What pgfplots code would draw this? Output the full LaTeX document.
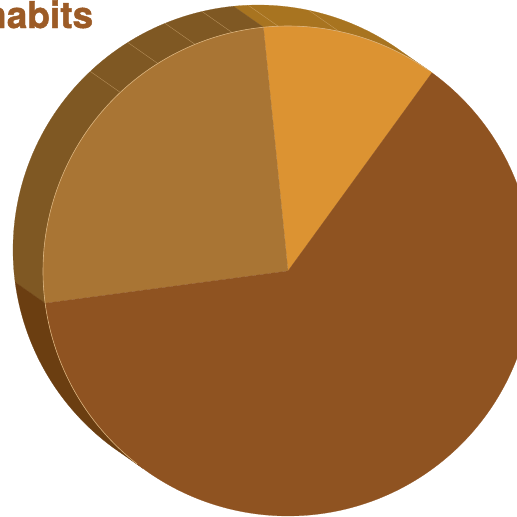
\documentclass[border=0pt]{standalone}
\usepackage{pgfplots}
\pgfplotsset{compat=1.18}
\usepackage{fontspec}
\newfontfamily\titlefont{TeX Gyre Heros}[BoldFeatures={FakeBold=1.2}]
\definecolor{darktop}{HTML}{8F5321}
\definecolor{darkside}{HTML}{6B3E11}
\definecolor{lighttop}{HTML}{A97534}
\definecolor{lightside}{HTML}{7F5823}
\definecolor{orangetop}{HTML}{DC9332}
\definecolor{orangeside}{HTML}{A87420}
\definecolor{rim}{HTML}{D9B27C}
\definecolor{titlecol}{HTML}{9C5B26}

% slice values (percent)
\def\vOrange{11.6}
\def\vLight{25.5}
\def\vDark{62.9}
\def\startangle{54}
\pgfmathsetmacro{\aA}{\startangle}
\pgfmathsetmacro{\aB}{\aA+3.6*\vOrange}
\pgfmathsetmacro{\aC}{\aB+3.6*\vLight}
\pgfmathsetmacro{\aD}{\aC+3.6*\vDark}
% geometry of the drawing (pixels)
\def\cx{288}\def\cy{271}\def\R{245}\def\ox{-30}\def\oy{-21}
\def\visEnd{233.7}

\begin{document}
\begin{tikzpicture}
\path[use as bounding box] (0,0) rectangle (517pt,517pt);
\clip (0,0) rectangle (517pt,517pt);
\begin{axis}[
  at={(0,0)}, anchor=south west,
  hide axis, scale only axis,
  width=517pt, height=517pt,
  xmin=0, xmax=517, ymin=0, ymax=517,
  y dir=reverse,
]
% ---- side walls ----
\addplot[fill=orangeside, draw=orangeside, line width=0.2pt, domain=0:3, samples=181, variable=\s]
 ({\cx + \R*cos(\aA + (\aB-\aA)*min(\s,1) - (\aB-\aA)*max(\s-2,0)) + \ox*min(max(\s-1,0),1)},
  {\cy - \R*sin(\aA + (\aB-\aA)*min(\s,1) - (\aB-\aA)*max(\s-2,0)) + \oy*min(max(\s-1,0),1)}) -- cycle;
\addplot[fill=lightside, draw=lightside, line width=0.2pt, domain=0:3, samples=181, variable=\s]
 ({\cx + \R*cos(\aB + (\aC-\aB)*min(\s,1) - (\aC-\aB)*max(\s-2,0)) + \ox*min(max(\s-1,0),1)},
  {\cy - \R*sin(\aB + (\aC-\aB)*min(\s,1) - (\aC-\aB)*max(\s-2,0)) + \oy*min(max(\s-1,0),1)}) -- cycle;
\addplot[fill=darkside, draw=darkside, line width=0.2pt, domain=0:3, samples=181, variable=\s]
 ({\cx + \R*cos(\aC + (\visEnd-\aC)*min(\s,1) - (\visEnd-\aC)*max(\s-2,0)) + \ox*min(max(\s-1,0),1)},
  {\cy - \R*sin(\aC + (\visEnd-\aC)*min(\s,1) - (\visEnd-\aC)*max(\s-2,0)) + \oy*min(max(\s-1,0),1)}) -- cycle;
% ---- facet lines on the wall ----
\pgfplotsinvokeforeach{78,92.3,103.2,112.3,122.1,133.2}{
\addplot[draw=rim, draw opacity=0.6, line width=0.4pt, domain=0:1, samples=2, variable=\s]
 ({\cx+\R*cos(#1)+\ox*\s},{\cy-\R*sin(#1)+\oy*\s});
}
% ---- top faces ----
\addplot[fill=orangetop, draw=orangetop, line width=0.2pt, domain=\aA:\aB, samples=60, variable=\t]
 ({\cx+\R*cos(\t)}, {\cy-\R*sin(\t)}) -- (axis cs:\cx,\cy) -- cycle;
\addplot[fill=lighttop, draw=lighttop, line width=0.2pt, domain=\aB:\aC, samples=80, variable=\t]
 ({\cx+\R*cos(\t)}, {\cy-\R*sin(\t)}) -- (axis cs:\cx,\cy) -- cycle;
\addplot[fill=darktop, draw=darktop, line width=0.2pt, domain=\aC:\aD, samples=180, variable=\t]
 ({\cx+\R*cos(\t)}, {\cy-\R*sin(\t)}) -- (axis cs:\cx,\cy) -- cycle;
% ---- rim highlight ----
\addplot[draw=rim, line width=0.6pt, domain=55:232, samples=150, variable=\t]
 ({\cx+\R*cos(\t)}, {\cy-\R*sin(\t)});
% ---- title ----
\node[anchor=base west, inner sep=0pt, text=titlecol,
      font=\titlefont\bfseries\fontsize{37}{40}\selectfont] at (axis cs:-16,28) {habits};
\end{axis}
\end{tikzpicture}
\end{document}
